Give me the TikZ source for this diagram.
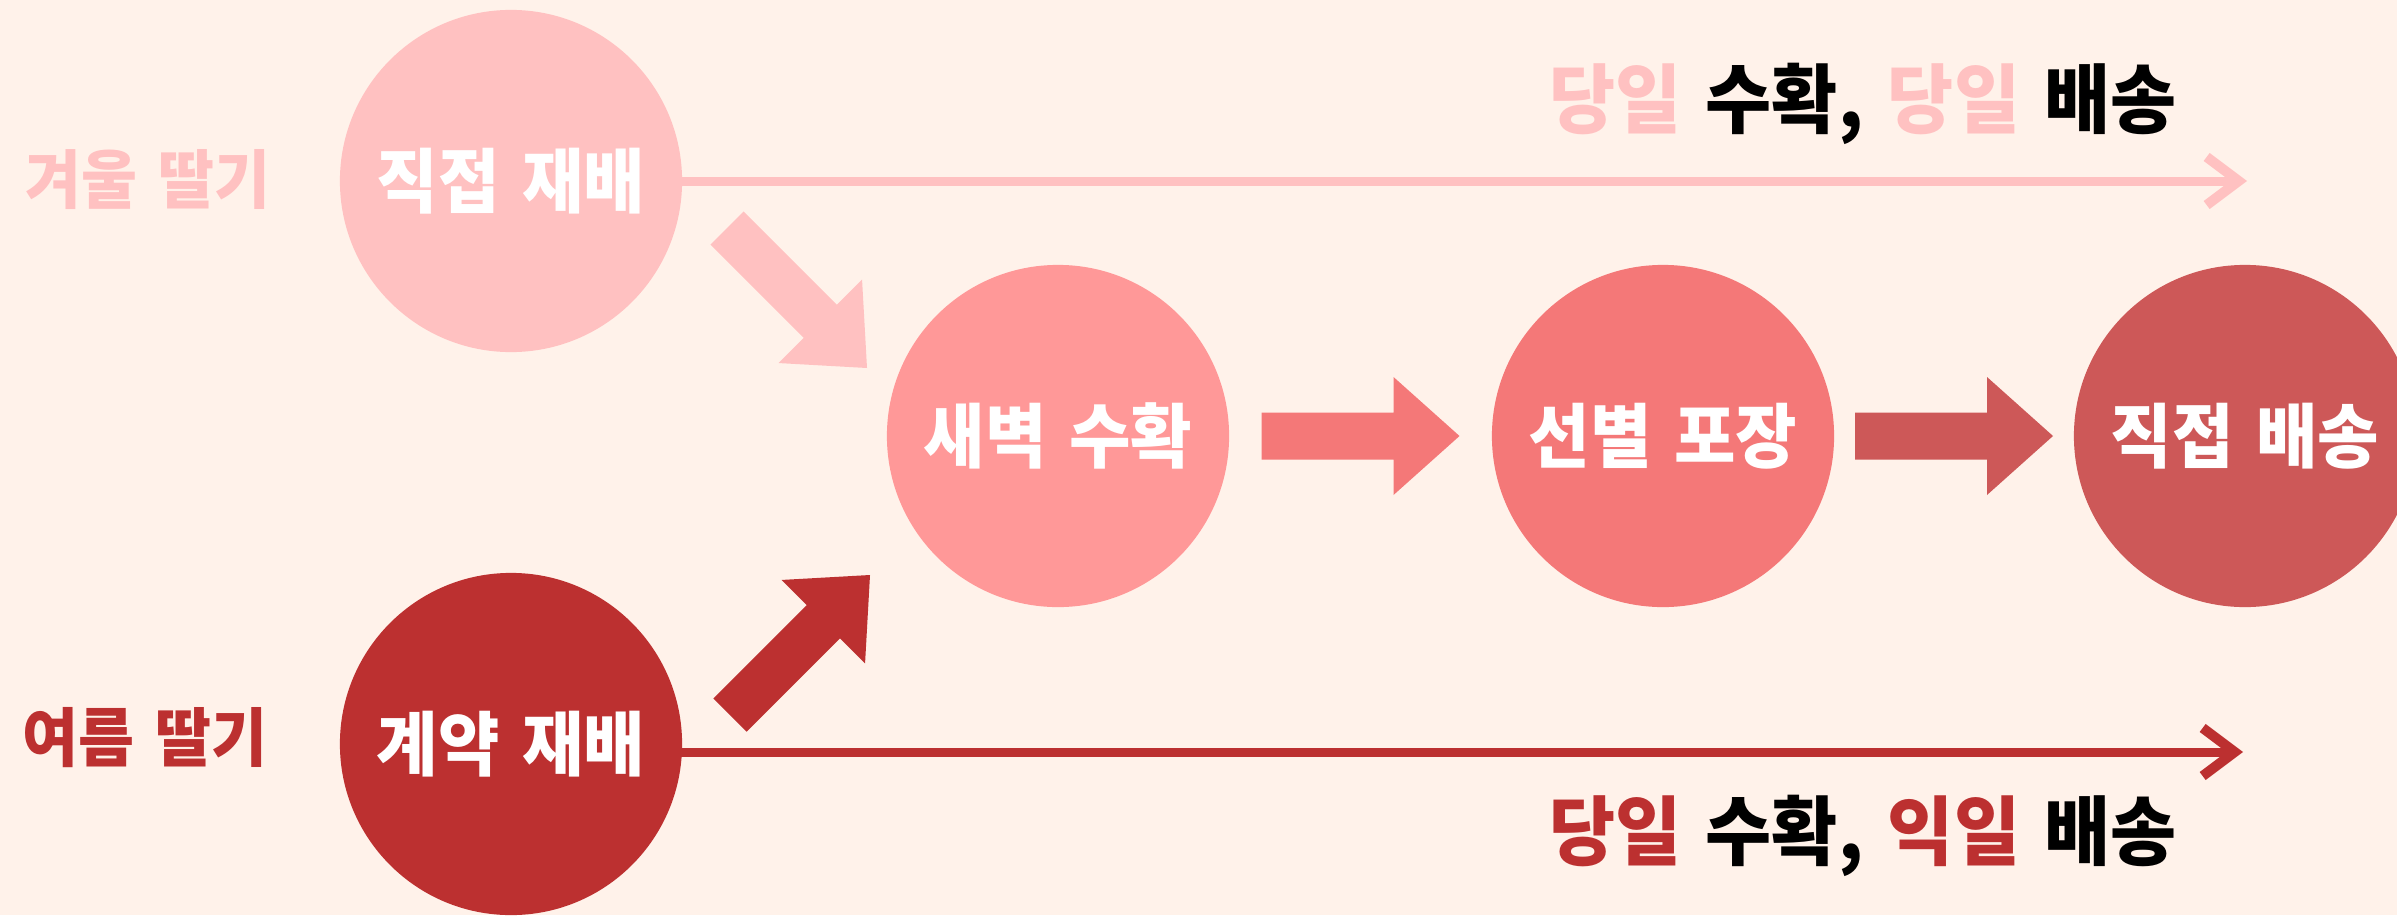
\documentclass[tikz,border=0pt]{standalone}
\usepackage{fontspec}
\newfontfamily\krfont{Noto Sans CJK KR Black}[FakeStretch=0.95,WordSpace=1.5]
\usetikzlibrary{arrows.meta,calc}

\definecolor{bg}{HTML}{FFF2EA}
\definecolor{pinkA}{HTML}{FFC1C1}
\definecolor{pinkC}{HTML}{FF9898}
\definecolor{coralD}{HTML}{F47878}
\definecolor{redE}{HTML}{CD5858}
\definecolor{redB}{HTML}{BC3030}

\tikzset{
  stage/.style={circle,minimum size=3.42cm,inner sep=0pt,text=white,
    font=\krfont\fontsize{20}{21}\selectfont},
  berry/.style={font=\krfont\fontsize{18.2}{19}\selectfont},
  note/.style={font=\krfont\fontsize{21.5}{22}\selectfont},
  flow/.style={line width=0.09cm,-{Straight Barb[length=3.2mm,width=4.8mm,line width=0.1cm]}},
  blockarrow/.pic={
    \fill[#1] (-99,-23.5) -- (33,-23.5) -- (33,-59) -- (99,0)
      -- (33,59) -- (33,23.5) -- (-99,23.5) -- cycle;
  }
}

\begin{document}
\begin{tikzpicture}[x=0.01cm,y=-0.01cm]
    \fill[bg] (0,0) rectangle (2397,915);
    \useasboundingbox (0,0) rectangle (2397,915);
    % berries
    \node[berry,text=pinkA] (winter) at (148,180) {겨울 딸기};
    \node[berry,text=redB] (summer) at (145,738) {여름 딸기};
    % long lines
    \coordinate (topend) at (2247,181);
    \coordinate (botend) at (2243,752);
    \draw[flow,pinkA] (511,181) -- (topend);
    \draw[flow,redB] (511,752) -- (botend);
    % stages
    \node[stage,fill=pinkA] (direct) at (511,181) {직접 재배};
    \node[stage,fill=redB] (contract) at (511,744) {계약 재배};
    \node[stage,fill=pinkC] (harvest) at (1058,436) {새벽 수확};
    \node[stage,fill=coralD] (pack) at (1663,436) {선별 포장};
    \node[stage,fill=redE] (ship) at (2245,436) {직접 배송};
    % block arrows
    \pic[rotate=-45] at (797,298) {blockarrow=pinkA};
    \pic[rotate=45] at (800,645) {blockarrow=redB};
    \pic at ($(harvest.east)!0.5!(pack.west)$) {blockarrow=coralD};
    \pic at ($(pack.east)!0.5!(ship.west)$) {blockarrow=redE};
    % notes
    \node[note] (topnote) at (1863,104)
      {{\color{pinkA}당일} 수확, {\color{pinkA}당일} 배송};
    \node[note] (botnote) at (1863,836)
      {{\color{redB}당일} 수확, {\color{redB}익일} 배송};
\end{tikzpicture}
\end{document}
